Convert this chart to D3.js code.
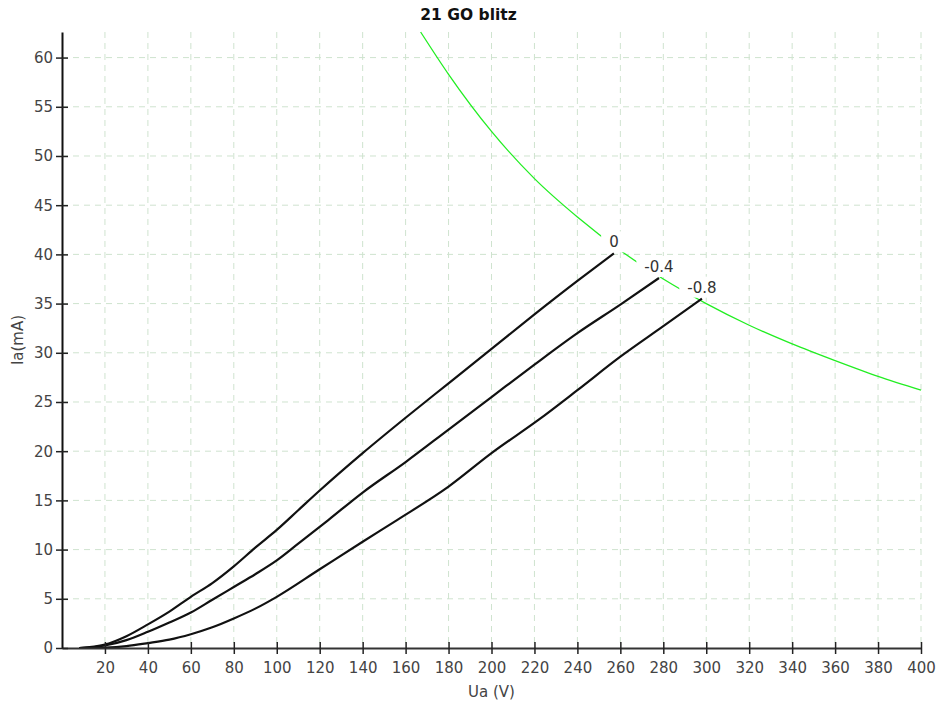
<!DOCTYPE html>
<html><head><meta charset="utf-8">
<script src="https://cdn.jsdelivr.net/npm/d3@7"></script>
<style>body{margin:0;background:#fff;} text{font-family:"DejaVu Sans",Verdana,sans-serif;}</style>
</head><body>
<svg id="c" width="937" height="707"></svg>
<script>
const title = "21 GO blitz";
const xLabel = "Ua (V)";
const yLabel = "Ia(mA)";
const xTicks = [20,40,60,80,100,120,140,160,180,200,220,240,260,280,300,320,340,360,380,400];
const yTicks = [0,5,10,15,20,25,30,35,40,45,50,55,60];

const curveNames = ["0", "-0.4", "-0.8"];
const u0 = [8,20,30,40,50,60,70,80,90,100,110,120,140,160,180,200,220,240,257];
const i0 = [0,0.35,1.2,2.4,3.7,5.2,6.6,8.3,10.2,12.0,14.0,16.0,19.8,23.4,26.9,30.4,33.9,37.3,40.1];
const u1 = [8,20,30,40,50,60,70,80,90,100,110,124,140,160,180,200,220,240,260,278];
const i1 = [0,0.25,0.8,1.65,2.6,3.6,4.9,6.2,7.5,8.9,10.6,13.0,15.8,18.9,22.2,25.5,28.8,32.0,34.9,37.6];
const u2 = [8,20,30,40,50,60,70,80,90,100,120,140,156,180,200,222,240,260,280,298];
const i2 = [0,0.05,0.2,0.5,0.85,1.4,2.1,3.0,4.0,5.2,8.0,10.8,13.0,16.4,19.8,23.2,26.2,29.6,32.7,35.5];

const pmaxU = [167,180,200,220,240,260,280,300,320,340,360,380,400];
const pmaxI = [62.6,58.3,52.5,47.7,43.8,40.4,37.5,35.0,32.8,30.9,29.2,27.6,26.2];

const svg = d3.select("#c");
const L = 62, R = 921, T = 32, B = 648;
const x = d3.scaleLinear().domain([0,400]).range([L,R]);
const y = d3.scaleLinear().domain([0,62.6]).range([B,T]);

// grid
const g = svg.append("g");
xTicks.forEach(v => g.append("line").attr("x1",x(v)).attr("x2",x(v)).attr("y1",T).attr("y2",B)
  .attr("stroke","#cfe3cf").attr("stroke-width",1).attr("stroke-dasharray","6,5"));
yTicks.filter(v=>v>0).forEach(v => g.append("line").attr("x1",L).attr("x2",R).attr("y1",y(v)).attr("y2",y(v))
  .attr("stroke","#cfe3cf").attr("stroke-width",1).attr("stroke-dasharray","6,5"));

const line = d3.line().x(d=>x(d[0])).y(d=>y(d[1])).curve(d3.curveMonotoneX);

// Pmax curve
svg.append("path").datum(d3.zip(pmaxU,pmaxI)).attr("d",line)
  .attr("fill","none").attr("stroke","#22ee22").attr("stroke-width",1.3);

// label backgrounds + labels
const curves = [[u0,i0],[u1,i1],[u2,i2]];
curves.forEach((c,k) => {
  const ex = x(c[0][c[0].length-1]), ey = y(c[1][c[1].length-1]);
  const t = svg.append("text").attr("x",ex).attr("y",ey-6).attr("text-anchor","middle")
    .attr("font-size",15).attr("fill","#333").text(curveNames[k]);
  const bb = t.node().getBBox();
  svg.insert("rect", "text").attr("x",bb.x-8).attr("y",bb.y-2).attr("width",bb.width+16)
    .attr("height",ey-1-(bb.y-2)).attr("fill","#fff");
});

// curves
curves.forEach(c => {
  svg.append("path").datum(d3.zip(c[0],c[1])).attr("d",line)
    .attr("fill","none").attr("stroke","#111").attr("stroke-width",2.2);
});
svg.selectAll("text").raise();

// axes
const xa = svg.append("g").attr("transform",`translate(0,${B})`)
  .call(d3.axisBottom(x).tickValues(xTicks).tickSize(6).tickSizeOuter(0));
xa.select(".domain").attr("stroke","#333").attr("stroke-width",2);
xa.selectAll(".tick line").attr("y1",-6).attr("stroke","#222").attr("stroke-width",1.5);
xa.selectAll(".tick text").attr("font-size",15).attr("fill","#444").attr("dy","1.05em")
  .attr("font-family","DejaVu Sans, Verdana, sans-serif");

const ya = svg.append("g").attr("transform",`translate(${L},0)`)
  .call(d3.axisLeft(y).tickValues(yTicks).tickSize(6).tickSizeOuter(0).tickPadding(3));
ya.select(".domain").attr("stroke","#111").attr("stroke-width",2);
ya.selectAll(".tick line").attr("x1",6).attr("stroke","#222").attr("stroke-width",1.5);
ya.selectAll(".tick text").attr("font-size",15).attr("fill","#444")
  .attr("font-family","DejaVu Sans, Verdana, sans-serif");

// titles
svg.append("text").attr("x",468.5).attr("y",20).attr("text-anchor","middle")
  .attr("font-size",15.5).attr("font-weight","bold").attr("fill","#111").text(title);
svg.append("text").attr("x",(L+R)/2).attr("y",697).attr("text-anchor","middle")
  .attr("font-size",15).attr("fill","#444").text(xLabel);
svg.append("text").attr("transform",`translate(23,${(T+B)/2}) rotate(-90)`).attr("text-anchor","middle")
  .attr("font-size",15).attr("fill","#444").text(yLabel);
</script>
</body></html>
